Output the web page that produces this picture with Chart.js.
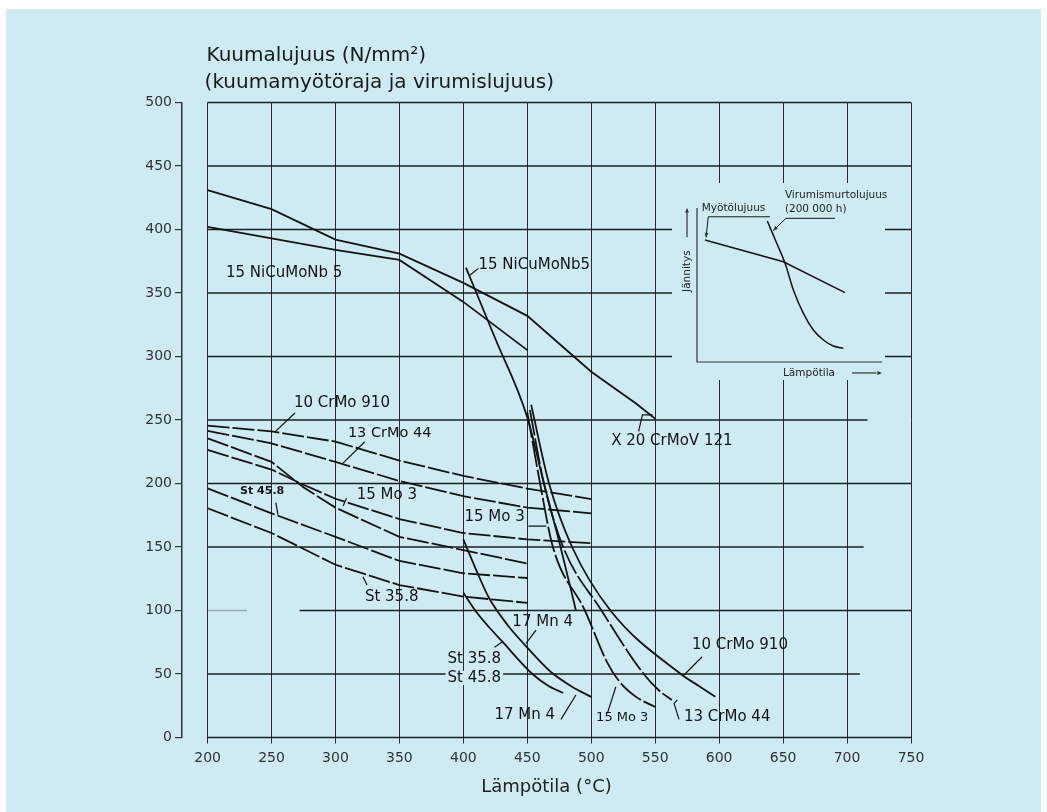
<!DOCTYPE html>
<html><head><meta charset="utf-8">
<script src="https://cdn.jsdelivr.net/npm/chart.js@4.4.1/dist/chart.umd.min.js"></script>
<style>
html,body{margin:0;padding:0;background:#fff;}
#wrap{position:relative;width:1047px;height:812px;overflow:hidden;background:#fff;}
#bg{position:absolute;left:6px;top:9px;width:1035px;height:803px;background:#ceebf4;}
#main{position:absolute;left:0;top:0;}
#inset{position:absolute;left:672px;top:183px;}
</style></head><body>
<div id="wrap"><div id="bg"></div>
<canvas id="main" width="1047" height="812"></canvas>
<canvas id="inset" width="236" height="197"></canvas>
</div>
<script>
// ---------- data (temperature °C, strength N/mm²) ----------
const xTicks = [200,250,300,350,400,450,500,550,600,650,700,750];
const yTicks = [0,50,100,150,200,250,300,350,400,450,500];

// hot yield strength
const x20Temp   = [200,250,300,350,400,450,500,535,550];
const x20Yield  = [431,416,392,381,358,332,288,263,251];
const niTemp    = [200,250,300,350,400,450];
const niYield   = [402,393,384,376,343,305];
const crmo910Temp  = [200,250,300,350,400,450,500];
const crmo910Yield = [245.5,241,233,218,206,196,187.7];
const crmo44Temp   = [200,250,300,350,400,450,500];
const crmo44Yield  = [241.5,231.6,217,202,190,181,176.5];
const mo3Temp   = [200,250,275,300,350,400,450,500];
const mo3Yield  = [226.4,211,199,188,172,161,156,153];
const mn4Temp   = [200,250,275,300,350,400,450];
const mn4Yield  = [235.6,217,197,181,158,147.6,137];
const st45Temp  = [200,250,300,350,400,450];
const st45Yield = [196.2,176.5,158,139,129.3,125.6];
const st35Temp  = [200,250,300,350,400,450];
const st35Yield = [180.5,161,136,120,111,106];

// creep strength
const niCreepTemp  = [402,425,450,463,476,488];
const niCreep      = [370,314,252,200,150,100];
const mn4CreepTemp = [400,410,420,435,448,468,485,500];
const mn4Creep     = [156,132,110,88,73,52,40,32];
const stCreepTemp  = [400,410,420,430,454,466,478];
const stCreep      = [114,99,87,76,50,41,35];
const mo3CreepTemp = [450,460,470,495,512,522,535,550];
const mo3Creep     = [256,200,150,100,60,44,32,24];
const crmo44CreepTemp = [452,463,478,508,541,553,563];
const crmo44Creep     = [258,200,150,100,50,37,29.5];
const crmo910CreepTemp = [453,467,485,515,570,585,597];
const crmo910Creep     = [262,200,150,100,50,40,32];

// horizontal grid lines (value, from, to)
const hGridValue = [500,450,400,350,300,250,200,150,100,100,50,0];
const hGridFrom  = [200,200,200,200,200,200,200,200,200,272,200,200];
const hGridTo    = [750,750,750,750,750,716,750,713,231,750,710,750];

// annotation texts and anchor positions (data units)
const labelText = ["15 NiCuMoNb 5","15 NiCuMoNb5","X 20 CrMoV 121","10 CrMo 910","13 CrMo 44","St 45.8","15 Mo 3","15 Mo 3","St 35.8","17 Mn 4","St 35.8","St 45.8","17 Mn 4","15 Mo 3","13 CrMo 44","10 CrMo 910"];
const labelX = [214.4,411.8,515.6,267.5,309.7,225.4,316.6,400.8,323,438.3,387.6,387.6,424.3,503.8,572.5,578.7];
const labelY = [365.7,372,233.5,263.4,239.8,194,191,173.6,110.6,91,61.8,46.9,17.7,15.4,16.1,72.8];

// leader lines (data units)
const leaderX = [[537,540,548],[268.3,252.7],[322.9,305.7],[253.4,255],[308.6,306],[450.8,464.8],[321.5,324.7],[456.8,449],[424.3,430.7],[476.3,488],[512.6,519.2],[568.6,564.7,567.3],[586.7,572.5],[411.8,405]];
const leaderY = [[241,254,254],[255.5,240.6],[232.9,215.9],[185,175.5],[188.3,182.3],[166.5,166.5],[126.6,120.1],[84.6,74.2],[71,75.4],[14.3,33.5],[19,40],[14.3,26.9,29.5],[63.6,49.2],[369.4,364]];

// inset (schematic, arbitrary units)
const insetYieldX = [4.3,46.7,80];
const insetYieldY = [79.2,65.1,45];
const insetCreepX = [38,43.1,47.6,52.1,57.5,62.9,68.3,73.7,79.1];
const insetCreepY = [91.6,77.1,64.1,46.8,31.6,20.8,14.3,10.4,8.9];

// ---------- helpers ----------
const pts = (xs, ys) => xs.map((v,i)=>({x:v, y:ys[i]}));
const FONT = "'DejaVu Sans', 'Liberation Sans', Arial, sans-serif";
const INK = '#141414';
const BLUE = '#ceebf4';

function curve(xs, ys, opts) {
  return Object.assign({data: pts(xs, ys), borderColor: INK, borderWidth: 1.8,
    pointRadius: 0, fill: false, tension: 0}, opts || {});
}
const yieldDash = [22,3];
const datasets = [
  curve(x20Temp, x20Yield),
  curve(niTemp, niYield),
  curve(crmo910Temp, crmo910Yield, {borderDash: yieldDash}),
  curve(crmo44Temp, crmo44Yield, {borderDash: yieldDash}),
  curve(mo3Temp, mo3Yield, {borderDash: yieldDash}),
  curve(mn4Temp, mn4Yield, {borderDash: yieldDash}),
  curve(st45Temp, st45Yield, {borderDash: yieldDash}),
  curve(st35Temp, st35Yield, {borderDash: yieldDash}),
  curve(niCreepTemp, niCreep, {cubicInterpolationMode:'monotone'}),
  curve(mn4CreepTemp, mn4Creep, {cubicInterpolationMode:'monotone'}),
  curve(stCreepTemp, stCreep, {cubicInterpolationMode:'monotone'}),
  curve(mo3CreepTemp, mo3Creep, {cubicInterpolationMode:'monotone', borderDash:[26,3]}),
  curve(crmo44CreepTemp, crmo44Creep, {cubicInterpolationMode:'monotone', borderDash:[26,3]}),
  curve(crmo910CreepTemp, crmo910Creep, {cubicInterpolationMode:'monotone'}),
];
leaderX.forEach((xs,i)=>datasets.push(curve(xs, leaderY[i], {borderWidth:1.2})));

const mainDeco = {
  id: 'mainDeco',
  beforeDatasetsDraw(chart) {
    const {ctx, scales:{x, y}} = chart;
    ctx.save();
    ctx.strokeStyle = '#1e1e1e';
    ctx.lineWidth = 1.5;
    hGridValue.forEach((v,i)=>{
      ctx.globalAlpha = (i === 8) ? 0.3 : 1;
      const py = y.getPixelForValue(v);
      ctx.beginPath();
      ctx.moveTo(x.getPixelForValue(hGridFrom[i]), py);
      ctx.lineTo(x.getPixelForValue(hGridTo[i]), py);
      ctx.stroke();
    });
    ctx.restore();
  },
  afterDraw(chart) {
    const {ctx, scales:{x, y}} = chart;
    ctx.save();
    ctx.fillStyle = INK;
    ctx.textBaseline = 'middle';
    ctx.textAlign = 'left';
    labelText.forEach((t,i)=>{
      let size = 15, weight = 'normal';
      if (i === 5) { size = 11; weight = 'bold'; }
      if (i === 13) size = 13;
      if (i === 4) size = 14.5;
      ctx.font = weight + ' ' + size + 'px ' + FONT;
      const px = x.getPixelForValue(labelX[i]);
      const py = y.getPixelForValue(labelY[i]);
      if (i === 11) {
        const w = ctx.measureText(t).width;
        ctx.fillStyle = BLUE;
        ctx.fillRect(px - 2, py - 7, w + 4, 14);
        ctx.fillStyle = INK;
      }
      ctx.fillText(t, px, py);
    });
    // axis heading
    const left = x.getPixelForValue(200);
    ctx.font = '20px ' + FONT;
    ctx.fillStyle = '#1a1a1a';
    ctx.textBaseline = 'alphabetic';
    ctx.fillText('Kuumalujuus (N/mm²)', left - 1, chart.chartArea.top - 42);
    ctx.fillText('(kuumamyötöraja ja virumislujuus)', left - 3, chart.chartArea.top - 15);
    ctx.restore();
  }
};

new Chart(document.getElementById('main'), {
  type: 'line',
  data: { datasets },
  options: {
    responsive: false, animation: false, devicePixelRatio: 1,
    parsing: true,
    layout: { padding: { top: 102.5, right: 136, left: 0, bottom: 0 } },
    plugins: { legend: {display:false}, tooltip: {enabled:false} },
    scales: {
      x: {
        type: 'linear', min: 180, max: 750,
        afterBuildTicks: (s) => { s.ticks = xTicks.map(v=>({value:v})); },
        afterFit: (s) => { s.height = 74.5; },
        grid: { display: true, drawOnChartArea: true, drawTicks: true, tickLength: 6, color: '#2a2a2a', lineWidth: 1 },
        border: { display: false },
        ticks: { autoSkip: false, maxRotation: 0, padding: 6, color: '#333', font: { family: FONT, size: 14 } },
        title: { display: true, text: 'Lämpötila (°C)', color: '#222', font: { family: FONT, size: 18 }, padding: { top: 0, bottom: 14 } }
      },
      y: {
        type: 'linear', min: 0, max: 500,
        afterBuildTicks: (s) => { s.ticks = yTicks.map(v=>({value:v})); },
        afterFit: (s) => { s.width = 182; },
        grid: { display: true, drawOnChartArea: false, drawTicks: true, tickLength: 7, color: '#333', lineWidth: 1.2 },
        border: { display: true, color: '#333', width: 1.5 },
        ticks: { padding: 3, color: '#333', font: { family: FONT, size: 14 } }
      }
    }
  },
  plugins: [mainDeco]
});

// ---------- inset ----------
function arrowHead(ctx, x1, y1, x2, y2, size) {
  const a = Math.atan2(y2 - y1, x2 - x1);
  ctx.beginPath();
  ctx.moveTo(x2, y2);
  ctx.lineTo(x2 - size*Math.cos(a - 0.4), y2 - size*Math.sin(a - 0.4));
  ctx.lineTo(x2 - size*Math.cos(a + 0.4), y2 - size*Math.sin(a + 0.4));
  ctx.closePath();
  ctx.fill();
}
const insetLeaderX = [[6.1,39.5],[6.1,4.9],[48.1,74.6],[48.1,41.2]];
const insetLeaderY = [[94.3,94.3],[94.3,80.9],[93.3,93.3],[93.3,85.3]];
const insetDeco = {
  id: 'insetDeco',
  beforeDraw(chart) {
    const {ctx, height} = chart;
    ctx.save();
    ctx.fillStyle = BLUE;
    ctx.fillRect(0, 0, 213, height);   // mask of the main grid behind the inset
    ctx.restore();
  },
  afterDraw(chart) {
    const {ctx, chartArea:a, scales:{x, y}} = chart;
    ctx.save();
    ctx.strokeStyle = '#333'; ctx.fillStyle = '#333'; ctx.lineWidth = 1.2;
    ctx.beginPath();
    ctx.moveTo(a.left, a.top); ctx.lineTo(a.left, a.bottom); ctx.lineTo(a.right, a.bottom);
    ctx.stroke();
    // arrow heads on leaders
    arrowHead(ctx, x.getPixelForValue(6.1), y.getPixelForValue(94.3), x.getPixelForValue(4.9), y.getPixelForValue(80.9), 5);
    arrowHead(ctx, x.getPixelForValue(48.1), y.getPixelForValue(93.3), x.getPixelForValue(41.2), y.getPixelForValue(85.3), 5);
    // axis arrows
    const ax = x.getPixelForValue(-5.4);
    ctx.beginPath(); ctx.moveTo(ax, y.getPixelForValue(81)); ctx.lineTo(ax, y.getPixelForValue(99)); ctx.stroke();
    arrowHead(ctx, ax, y.getPixelForValue(90), ax, y.getPixelForValue(100), 5);
    const ay = y.getPixelForValue(-7.1);
    ctx.beginPath(); ctx.moveTo(x.getPixelForValue(83.8), ay); ctx.lineTo(x.getPixelForValue(97), ay); ctx.stroke();
    arrowHead(ctx, x.getPixelForValue(90), ay, x.getPixelForValue(100), ay, 5);
    // texts
    ctx.fillStyle = '#222';
    ctx.font = '10.5px ' + FONT;
    ctx.textBaseline = 'middle'; ctx.textAlign = 'left';
    ctx.fillText('Myötölujuus', x.getPixelForValue(2.6), y.getPixelForValue(100));
    ctx.fillText('Virumismurtolujuus', x.getPixelForValue(47.5), y.getPixelForValue(108.5));
    ctx.fillText('(200 000 h)', x.getPixelForValue(47.5), y.getPixelForValue(99));
    ctx.fillText('Lämpötila', x.getPixelForValue(46.5), ay);
    ctx.save();
    ctx.translate(ax, y.getPixelForValue(59));
    ctx.rotate(-Math.PI/2);
    ctx.textAlign = 'center';
    ctx.fillText('Jännitys', 0, 0);
    ctx.restore();
    ctx.restore();
  }
};
const insetSets = [
  curve(insetYieldX, insetYieldY, {borderWidth: 1.5}),
  curve(insetCreepX, insetCreepY, {borderWidth: 1.5, cubicInterpolationMode: 'monotone'})
];
insetLeaderX.forEach((xs,i)=>insetSets.push(curve(xs, insetLeaderY[i], {borderWidth: 1})));
new Chart(document.getElementById('inset'), {
  type: 'line',
  data: { datasets: insetSets },
  options: {
    responsive: false, animation: false, devicePixelRatio: 1,
    layout: { padding: { left: 25, top: 25, right: 26, bottom: 18 } },
    plugins: { legend: {display:false}, tooltip: {enabled:false} },
    scales: { x: { type:'linear', display: false, min: 0, max: 100 }, y: { type:'linear', display: false, min: 0, max: 100 } }
  },
  plugins: [insetDeco]
});
</script>
</body></html>
